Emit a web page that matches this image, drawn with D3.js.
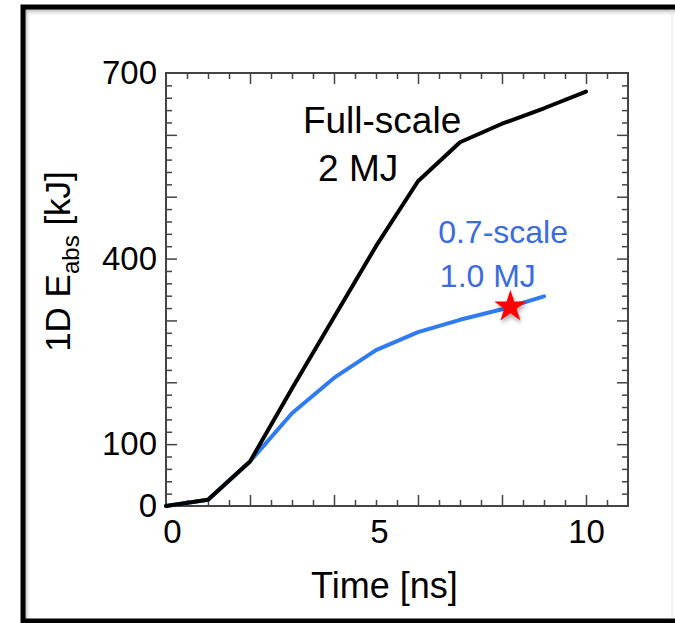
<!DOCTYPE html>
<html>
<head>
<meta charset="utf-8">
<script src="https://cdn.jsdelivr.net/npm/d3@7"></script>
<style>
  html, body { margin: 0; padding: 0; background: #fff; }
  svg text { font-family: "Liberation Sans", Arial, sans-serif; }
</style>
</head>
<body>
<div id="chart"></div>
<script>
// time axis in ns
const times = [0, 1, 2, 3, 4, 5, 6, 7, 8, 9, 10];
// absorbed energy, kJ
const fullScale = [0, 10, 72, 190, 305, 420, 525, 588, 618, 643, 670];
const timesSmall = [0, 1, 2, 3, 4, 5, 6, 7, 8, 9];
const smallScale = [0, 10, 72, 150, 207, 252, 281, 301, 318, 339];
// red star marker
const starPoint = [8.2, 322];

const xLabels = [0, 5, 10];
const yLabels = [0, 100, 400, 700];

const width = 675, height = 623;
const plot = { left: 166, right: 628, top: 73, bottom: 506 };

const svg = d3.select("#chart").append("svg")
    .attr("width", width)
    .attr("height", height);

const defs = svg.append("defs");
const gTop = defs.append("linearGradient").attr("id", "shTop")
    .attr("x1", 0).attr("y1", 0).attr("x2", 0).attr("y2", 1);
gTop.append("stop").attr("offset", 0).attr("stop-color", "#999").attr("stop-opacity", 0.8);
gTop.append("stop").attr("offset", 1).attr("stop-color", "#fff").attr("stop-opacity", 0);
const gLeft = defs.append("linearGradient").attr("id", "shLeft")
    .attr("x1", 0).attr("y1", 0).attr("x2", 1).attr("y2", 0);
gLeft.append("stop").attr("offset", 0).attr("stop-color", "#999").attr("stop-opacity", 0.8);
gLeft.append("stop").attr("offset", 1).attr("stop-color", "#fff").attr("stop-opacity", 0);
const blur = defs.append("filter").attr("id", "starShadow")
    .attr("x", "-50%").attr("y", "-50%").attr("width", "200%").attr("height", "200%");
blur.append("feDropShadow").attr("dx", 1).attr("dy", 3).attr("stdDeviation", 2)
    .attr("flood-color", "#000").attr("flood-opacity", 0.35);

// slide frame
svg.append("rect").attr("x", 25).attr("y", 9).attr("width", 650).attr("height", 8).attr("fill", "url(#shTop)");
svg.append("rect").attr("x", 25).attr("y", 9).attr("width", 6).attr("height", 610).attr("fill", "url(#shLeft)");
svg.append("line").attr("x1", 672).attr("x2", 672).attr("y1", 9).attr("y2", 619)
    .attr("stroke", "#e4e4e4").attr("stroke-width", 1);
svg.append("path")
    .attr("d", "M675,7 H23 V621 H675")
    .attr("fill", "none").attr("stroke", "#000").attr("stroke-width", 5);

const x = d3.scaleLinear().domain([0, 11]).range([plot.left, plot.right]);
const y = d3.scaleLinear().domain([0, 700]).range([plot.bottom, plot.top]);

const xMinor = d3.range(0.5, 11, 0.5).filter(d => d % 2 !== 0);
const xMajor = d3.range(2, 11, 2);
const yMinor = d3.range(20, 700, 20).filter(d => d % 100 !== 0);
const yMajor = d3.range(100, 700, 100);

const axisColor = "#444";

function tickAxis(axis, transform) {
    const g = svg.append("g").attr("transform", transform).call(axis);
    g.select(".domain").remove();
    g.selectAll("line").attr("stroke", axisColor).attr("stroke-width", 1.5);
    g.selectAll("text").remove();
    return g;
}

// inward ticks on all four sides
tickAxis(d3.axisBottom(x).tickValues(xMinor).tickSize(-6), `translate(0,${plot.bottom})`);
tickAxis(d3.axisBottom(x).tickValues(xMajor).tickSize(-11), `translate(0,${plot.bottom})`);
tickAxis(d3.axisTop(x).tickValues(xMinor).tickSize(-6), `translate(0,${plot.top})`);
tickAxis(d3.axisTop(x).tickValues(xMajor).tickSize(-11), `translate(0,${plot.top})`);
tickAxis(d3.axisLeft(y).tickValues(yMinor).tickSize(-6), `translate(${plot.left},0)`);
tickAxis(d3.axisLeft(y).tickValues(yMajor).tickSize(-11), `translate(${plot.left},0)`);
tickAxis(d3.axisRight(y).tickValues(yMinor).tickSize(-6), `translate(${plot.right},0)`);
tickAxis(d3.axisRight(y).tickValues(yMajor).tickSize(-11), `translate(${plot.right},0)`);

svg.append("rect")
    .attr("x", plot.left).attr("y", plot.top)
    .attr("width", plot.right - plot.left).attr("height", plot.bottom - plot.top)
    .attr("fill", "none").attr("stroke", axisColor).attr("stroke-width", 2);

// tick labels
const xl = svg.append("g").attr("transform", `translate(0,${plot.bottom})`)
    .call(d3.axisBottom(x).tickValues(xLabels).tickSize(0).tickPadding(14).tickFormat(d3.format("d")));
xl.select(".domain").remove();
xl.selectAll("text").attr("font-size", 33).attr("fill", "#000")
    .attr("font-family", "Liberation Sans, Arial, sans-serif")
    .attr("dx", d => d === 0 ? 6 : d === 5 ? 3 : 0);

const yl = svg.append("g").attr("transform", `translate(${plot.left},0)`)
    .call(d3.axisLeft(y).tickValues(yLabels).tickSize(0).tickPadding(9).tickFormat(d3.format("d")));
yl.select(".domain").remove();
yl.selectAll("text").attr("font-size", 33).attr("fill", "#000")
    .attr("font-family", "Liberation Sans, Arial, sans-serif");

// axis titles
svg.append("text")
    .attr("x", x(5.2)).attr("y", 598)
    .attr("text-anchor", "middle").attr("font-size", 36)
    .text("Time [ns]");

const yt = svg.append("text")
    .attr("transform", `translate(70,${(plot.top + plot.bottom) / 2 - 28}) rotate(-90)`)
    .attr("text-anchor", "middle").attr("font-size", 35);
yt.append("tspan").text("1D E");
yt.append("tspan").attr("font-size", 24).attr("dy", 9).text("abs");
yt.append("tspan").attr("dy", -9).text(" [kJ]");

// curves
const line = d3.line().x(d => x(d[0])).y(d => y(d[1]));
const fullData = times.map((t, i) => [t, fullScale[i]]);
const smallData = timesSmall.map((t, i) => [t, smallScale[i]]);

svg.append("path").datum(smallData)
    .attr("d", line).attr("fill", "none")
    .attr("stroke", "#2f7cf2").attr("stroke-width", 4)
    .attr("stroke-linejoin", "round").attr("stroke-linecap", "round");
svg.append("path").datum(fullData)
    .attr("d", line).attr("fill", "none")
    .attr("stroke", "#000").attr("stroke-width", 4)
    .attr("stroke-linejoin", "round").attr("stroke-linecap", "round");

// star
svg.append("path")
    .attr("d", d3.symbol(d3.symbolStar, 324)())
    .attr("transform", `translate(${x(starPoint[0])},${y(starPoint[1])})`)
    .attr("fill", "#ff0000")
    .attr("filter", "url(#starShadow)");

// annotations
svg.append("text").attr("x", x(3.26)).attr("y", y(603))
    .attr("font-size", 37).attr("fill", "#000").text("Full-scale");
svg.append("text").attr("x", x(3.62)).attr("y", y(525))
    .attr("font-size", 37).attr("fill", "#000").text("2 MJ");
svg.append("text").attr("x", x(6.48)).attr("y", y(425))
    .attr("font-size", 32).attr("fill", "#3b6be0").text("0.7-scale");
svg.append("text").attr("x", x(6.52)).attr("y", y(354))
    .attr("font-size", 32).attr("fill", "#3b6be0").text("1.0 MJ");
</script>
</body>
</html>
